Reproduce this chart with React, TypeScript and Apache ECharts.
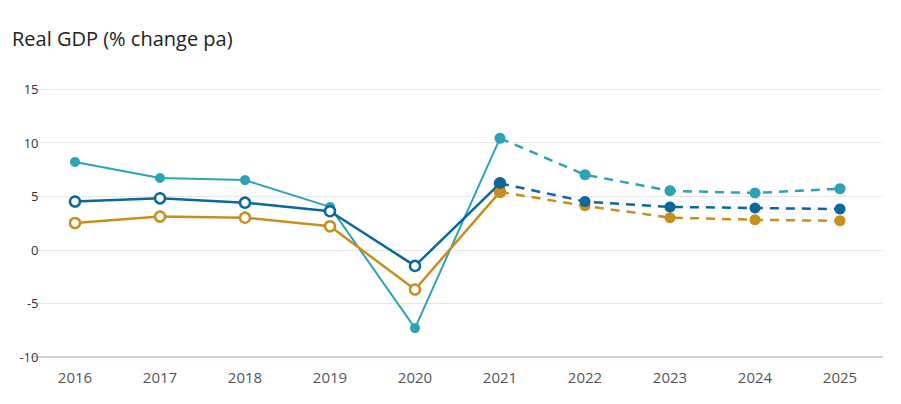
import React, { useEffect, useRef } from "react";
import * as echarts from "echarts";

const years = ["2016", "2017", "2018", "2019", "2020", "2021", "2022", "2023", "2024", "2025"];
const tealValues = [8.2, 6.7, 6.5, 4.0, -7.3, 10.4, 7.0, 5.5, 5.3, 5.7];
const blueValues = [4.5, 4.8, 4.4, 3.6, -1.5, 6.2, 4.5, 4.0, 3.9, 3.8];
const goldValues = [2.5, 3.1, 3.0, 2.2, -3.7, 5.4, 4.1, 3.0, 2.8, 2.7];
const lastActualIndex = 5; // 2021 joins actual and forecast

const TEAL = "#2ea3b5";
const BLUE = "#0a689c";
const GOLD = "#c78f1e";

function actual(vals: number[]) {
  return vals.map((v, i) => (i <= lastActualIndex ? v : null));
}
function forecast(vals: number[]) {
  return vals.map((v, i) => (i >= lastActualIndex ? v : null));
}

export default function App() {
  const ref = useRef<HTMLDivElement>(null);
  useEffect(() => {
    if (!ref.current) return;
    const chart = echarts.init(ref.current, undefined, { renderer: "svg" });
    const hollow = (vals: number[], color: string, z: number) => ({
      type: "line",
      data: actual(vals),
      symbol: "circle",
      symbolSize: 10,
      showAllSymbol: true,
      z,
      lineStyle: { color, width: 2.5 },
      itemStyle: { color: "#ffffff", borderColor: color, borderWidth: 2.5 },
    });
    const dashed = (vals: number[], color: string, z: number) => ({
      type: "line",
      data: forecast(vals),
      symbol: "circle",
      symbolSize: 11,
      z,
      lineStyle: { color, width: 2.5, type: [9, 7] },
      itemStyle: { color },
    });
    chart.setOption({
      animation: false,
      title: {
        text: "Real GDP (% change pa)",
        left: 12,
        top: 28,
        padding: 0,
        textStyle: { fontFamily: "Open Sans", fontSize: 20, fontWeight: "normal", color: "#222" },
      },
      grid: { left: 32.5, right: 18.5, top: 89, bottom: 47 },
      xAxis: {
        type: "category",
        data: years,
        boundaryGap: true,
        axisLine: { onZero: false, lineStyle: { color: "#d4d4e4", width: 2 } },
        axisTick: { show: false },
        axisLabel: { color: "#555", fontFamily: "Open Sans", fontSize: 15, margin: 12 },
      },
      yAxis: {
        type: "value",
        min: -10,
        max: 15,
        interval: 5,
        axisLine: { show: false },
        axisTick: { show: false },
        axisLabel: { color: "#333", fontFamily: "Open Sans", fontSize: 13, margin: -6 },
        splitLine: { lineStyle: { color: "#e6e6ee", width: 1 } },
      },
      series: [
        {
          type: "line",
          data: actual(tealValues),
          symbol: "circle",
          symbolSize: 10,
          z: 2,
          lineStyle: { color: TEAL, width: 2 },
          itemStyle: { color: TEAL },
        },
        hollow(goldValues, GOLD, 3),
        hollow(blueValues, BLUE, 4),
        dashed(tealValues, TEAL, 5),
        dashed(goldValues, GOLD, 6),
        dashed(blueValues, BLUE, 7),
      ],
    });
    return () => chart.dispose();
  }, []);
  return <div ref={ref} style={{ width: 901, height: 404, position: "absolute", left: 0, top: 0 }} />;
}
